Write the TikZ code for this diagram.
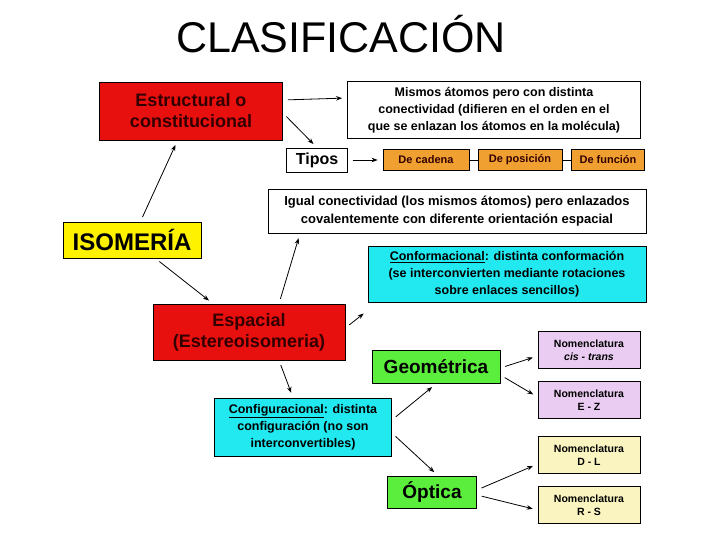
\documentclass[tikz,border=0pt]{standalone}
\usepackage{fontspec}
\setmainfont{Liberation Sans}
\usetikzlibrary{arrows.meta,positioning}
\definecolor{rojo}{HTML}{E8100E}
\definecolor{naranja}{HTML}{F0A030}
\definecolor{celeste}{HTML}{22E8F0}
\definecolor{verde}{HTML}{5CEE3C}
\definecolor{amarillo}{HTML}{FFF200}
\definecolor{lila}{HTML}{EACCF2}
\definecolor{crema}{HTML}{FAF5C0}
\begin{document}
\begin{tikzpicture}[x=1pt,y=-1pt,
    box/.style={draw, thick, align=center, inner sep=1pt, font=\bfseries\fontsize{12.5}{17}\selectfont},
    redbox/.style={box, fill=rojo, text=black!80!red, font=\bfseries\fontsize{18}{21}\selectfont},
    greenbox/.style={box, fill=verde, font=\bfseries\fontsize{19}{21}\selectfont},
    nombox/.style={box, minimum width=102pt, minimum height=37pt, font=\bfseries\fontsize{10.5}{13}\selectfont},
    tipo/.style={box, fill=naranja, minimum height=21pt, font=\bfseries\fontsize{11}{12}\selectfont, text=black!80!red},
    arr/.style={-{Stealth[length=6pt]}, thick, shorten <=5pt, shorten >=5pt},
]
\useasboundingbox (0,0) rectangle (728,546);
\node (title) at (341,34) {\fontsize{43}{46}\selectfont CLASIFICACIÓN};

\node[box, fill=amarillo, minimum width=138pt, minimum height=36pt, font=\bfseries\fontsize{24}{26}\selectfont] (iso) at (132,240) {ISOMERÍA};
\node[redbox, minimum width=183pt, minimum height=58pt] (estr) at (191,111) {Estructural o\\constitucional};
\node[box, minimum width=293pt, minimum height=57pt] (mismos) at (494,110) {Mismos átomos pero con distinta\\conectividad (difieren en el orden en el\\que se enlazan los átomos en la molécula)};
\node[box, minimum width=61pt, minimum height=24pt, font=\bfseries\fontsize{16}{18}\selectfont] (tipos) at (317,160) {Tipos};
\node[tipo, minimum width=86pt] (cadena) at (426,160) {De cadena};
\node[tipo, minimum width=84pt] (posicion) at (520,160) {De posición};
\node[tipo, minimum width=73pt] (funcion) at (608,160) {De función};

\node[box, minimum width=378pt, minimum height=44pt, font=\bfseries\fontsize{13}{18}\selectfont] (igual) at (457,211) {Igual conectividad (los mismos átomos) pero enlazados\\covalentemente con diferente orientación espacial};
\node[box, fill=celeste, minimum width=278pt, minimum height=56pt] (conform) at (507,274) {\underline{Conformacional}: distinta conformación\\(se interconvierten mediante rotaciones\\sobre enlaces sencillos)};
\node[redbox, minimum width=192pt, minimum height=56pt] (espacial) at (249,332) {Espacial\\(Estereoisomeria)};
\node[box, fill=celeste, minimum width=177pt, minimum height=58pt] (config) at (303,427) {\underline{Configuracional}: distinta\\configuración (no son\\interconvertibles)};
\node[greenbox, minimum width=128pt, minimum height=33pt] (geom) at (436,367) {Geométrica};
\node[greenbox, minimum width=89pt, minimum height=32pt] (optica) at (432,492) {Óptica};

\node[nombox, fill=lila] (cis) at (589,350) {Nomenclatura\\\textit{cis - trans}};
\node[nombox, fill=lila] (ez) at (589,400) {Nomenclatura\\E - Z};
\node[nombox, fill=crema] (dl) at (589,455) {Nomenclatura\\D - L};
\node[nombox, fill=crema] (rs) at (589,505) {Nomenclatura\\R - S};

\draw[arr] (iso) -- (estr);
\draw[arr] (iso) -- (espacial);
\draw[arr] ([yshift=11pt]estr.east) -- ([yshift=12pt]mismos.west);
\draw[arr] ([yshift=-2pt]estr.east) -- (tipos.north);
\draw[arr] (tipos) -- (cadena);
\draw[thick] (cadena) -- (posicion) (posicion) -- (funcion);
\draw[arr] ([xshift=30pt]espacial.north) -- ([xshift=-157pt]igual.south);
\draw[arr] ([yshift=4pt]espacial.east) -- ([yshift=-8pt]conform.south west);
\draw[arr] ([xshift=30pt]espacial.south) -- ([xshift=-10pt]config.north);
\draw[arr] ([yshift=7pt]config.east) -- (geom.south);
\draw[arr] ([yshift=-6pt]config.east) -- ([xshift=6pt]optica.north);
\draw[arr] ([yshift=-1pt]geom.east) -- ([yshift=-6pt]cis.west);
\draw[arr] ([yshift=-8pt]geom.east) -- ([yshift=3pt]ez.west);
\draw[arr] ([yshift=2pt]optica.east) -- ([yshift=-9pt]dl.west);
\draw[arr] ([yshift=-3pt]optica.east) -- ([yshift=-5pt]rs.west);
\end{tikzpicture}
\end{document}
